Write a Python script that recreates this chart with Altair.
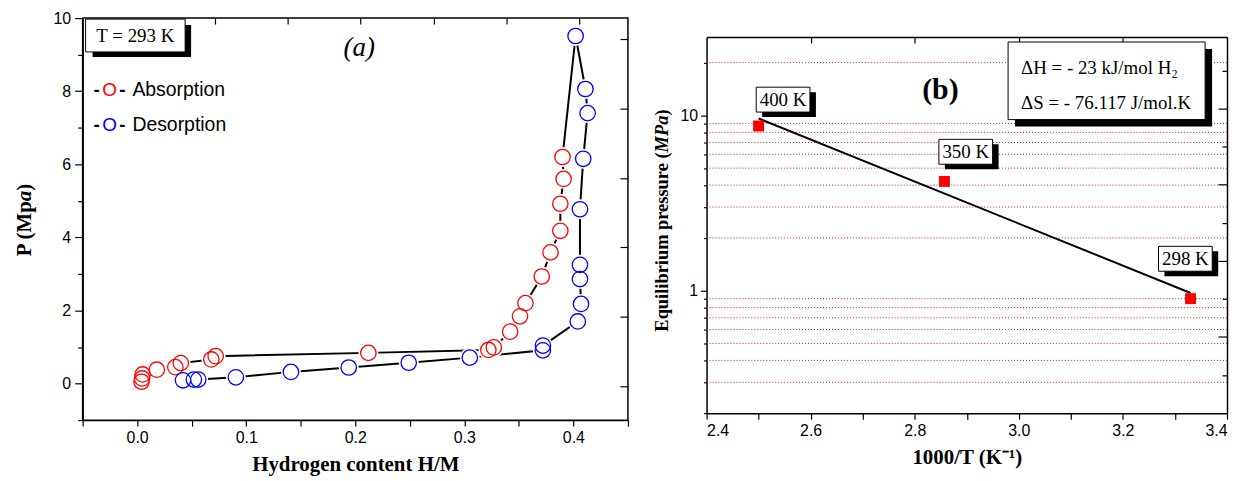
import altair as alt
import pandas as pd

# ---------------- Panel (a): PCT isotherm at 293 K ----------------
abs_x = [0.004, 0.0045, 0.005, 0.018, 0.035, 0.040, 0.068, 0.072, 0.212,
         0.322, 0.327, 0.342, 0.351, 0.356, 0.371, 0.379, 0.388, 0.388, 0.391, 0.390]
abs_p = [0.05, 0.14, 0.25, 0.38, 0.45, 0.56, 0.66, 0.75, 0.84,
         0.92, 0.99, 1.42, 1.84, 2.20, 2.93, 3.59, 4.18, 4.92, 5.60, 6.20]
des_x = [0.402, 0.411, 0.413, 0.409, 0.406, 0.406, 0.406, 0.407, 0.404, 0.372,
         0.372, 0.305, 0.249, 0.194, 0.141, 0.0905, 0.056, 0.052, 0.042]
des_p = [9.51, 8.06, 7.40, 6.15, 4.77, 3.25, 2.86, 2.18, 1.70, 1.04,
         0.91, 0.71, 0.57, 0.44, 0.32, 0.17, 0.11, 0.11, 0.09]
x_ticks_a = [-0.05, 0.0, 0.05, 0.1, 0.15, 0.2, 0.25, 0.3, 0.35, 0.4, 0.45]
y_ticks_a = [-1, 0, 1, 2, 3, 4, 5, 6, 7, 8, 9, 10]
legend_names = ["Absorption", "Desorption"]
temp_text_a = ["T = 293 K"]
panel_a = ["(a)"]
ytitle_a = ["P (Mp", "a", ")"]          # "a" in italic, as in the original

# ---------------- Panel (b): van't Hoff plot ----------------
inv_t = [2.5, 2.857, 3.33]
p_eq = [8.7, 4.2, 0.9]
temp_labels = ["400 K", "350 K", "298 K"]
label_x = [2.547, 2.898, 3.32]
label_p = [12.3, 6.2, 1.52]
fit_x = [2.5, 3.33]
fit_p = [9.6, 0.97]
grid_p = [0.3, 0.4, 0.5, 0.6, 0.7, 0.8, 0.9, 2, 3, 4, 5, 6, 7, 8, 9, 20]
x_ticks_b = [2.4, 2.5, 2.6, 2.7, 2.8, 2.9, 3.0, 3.1, 3.2, 3.3, 3.4]
y_ticks_b = [0.2, 0.3, 0.4, 0.5, 0.6, 0.7, 0.8, 0.9, 1, 2, 3, 4, 5, 6, 7, 8, 9, 10, 20]
thermo_text = ["ΔH = - 23 kJ/mol H₂", "ΔS = - 76.117 J/mol.K"]
panel_b = ["(b)"]
ytitle_b = ["Equilibrium pressure (", "MPa", ")"]   # "MPa" in italic

SERIF = "Liberation Serif"
SANS = "Liberation Sans"
one = pd.DataFrame({"k": [0]})

H_A = 404          # left plot height
H_B = 397          # right plot height (frame starts TOP_B px below the left frame top)
TOP_B = 19
W_B = 523


def rot_title(parts, x, junction, size, italic_w):
    """Three rotated text pieces: bold, bold-italic, bold."""
    p1 = alt.Chart(pd.DataFrame({"t": [parts[0]]})).mark_text(
        font=SERIF, fontSize=size, fontWeight="bold", color="black", angle=270,
        align="right", baseline="middle").encode(x=alt.value(x), y=alt.value(junction), text="t:N")
    p2 = alt.Chart(pd.DataFrame({"t": [parts[1]]})).mark_text(
        font=SERIF, fontSize=size, fontWeight="bold", fontStyle="italic", color="black", angle=270,
        align="left", baseline="middle").encode(x=alt.value(x), y=alt.value(junction), text="t:N")
    p3 = alt.Chart(pd.DataFrame({"t": [parts[2]]})).mark_text(
        font=SERIF, fontSize=size, fontWeight="bold", color="black", angle=270,
        align="left", baseline="middle").encode(x=alt.value(x), y=alt.value(junction - italic_w),
                                                text="t:N")
    return [p1, p2, p3]


# ======== panel (a) ========
df_abs = pd.DataFrame({"x": abs_x, "p": abs_p})
df_des = pd.DataFrame({"x": des_x, "p": des_p})
df_path = pd.DataFrame({"x": abs_x + des_x, "p": abs_p + des_p,
                        "o": list(range(len(abs_x) + len(des_x)))})

xa = alt.X("x:Q", scale=alt.Scale(domain=[-0.05, 0.45], nice=False, zero=False),
           axis=alt.Axis(values=x_ticks_a, grid=False, tickSize=6, labelPadding=3,
                         titlePadding=9, title="Hydrogen content H/M",
                         labelExpr="round(datum.value*100) % 10 == 0 ? format(datum.value, '.1f') : ''"))
ya = alt.Y("p:Q", scale=alt.Scale(domain=[-1, 10], nice=False, zero=False),
           axis=alt.Axis(values=y_ticks_a, grid=False, labelPadding=4, title=None,
                         tickSize={"condition": {"test": "datum.value % 2 === 0", "value": 8}, "value": 5},
                         labelExpr="(datum.value >= 0 && datum.value % 2 == 0) ? datum.label : ''"))

line_a = alt.Chart(df_path).mark_line(color="black", strokeWidth=2).encode(x=xa, y=ya, order="o:Q")
halo_abs = alt.Chart(df_abs).mark_point(shape="circle", size=400, filled=True, fill="white",
                                        opacity=1, strokeWidth=0).encode(x=xa, y=ya)
halo_des = alt.Chart(df_des).mark_point(shape="circle", size=400, filled=True, fill="white",
                                        opacity=1, strokeWidth=0).encode(x=xa, y=ya)
pts_abs = alt.Chart(df_abs).mark_point(shape="circle", size=240, color="#ff0000",
                                       strokeWidth=1.3, opacity=1).encode(x=xa, y=ya)
pts_des = alt.Chart(df_des).mark_point(shape="circle", size=240, color="#0000ff",
                                       strokeWidth=1.3, opacity=1).encode(x=xa, y=ya)

shadow_a = alt.Chart(one).mark_rect(fill="black").encode(
    x=alt.value(10), x2=alt.value(109), y=alt.value(7), y2=alt.value(39))
box_a = alt.Chart(one).mark_rect(fill="white", stroke="black", strokeWidth=1).encode(
    x=alt.value(3), x2=alt.value(103), y=alt.value(1), y2=alt.value(34))
txt_a = alt.Chart(pd.DataFrame({"t": temp_text_a})).mark_text(
    font=SERIF, fontSize=19, color="black").encode(x=alt.value(53), y=alt.value(18), text="t:N")
lab_a = alt.Chart(pd.DataFrame({"t": panel_a})).mark_text(
    font=SERIF, fontSize=27, fontStyle="italic", color="black").encode(
    x=alt.value(278), y=alt.value(30), text="t:N")

df_leg = pd.DataFrame({"name": legend_names, "yy": [72, 107]})
leg_d1 = alt.Chart(df_leg).mark_text(font=SANS, fontSize=19, fontWeight="bold", color="black", text="-").encode(
    x=alt.value(14), y=alt.Y("yy:Q", scale=None))
leg_d2 = alt.Chart(df_leg).mark_text(font=SANS, fontSize=19, fontWeight="bold", color="black", text="-").encode(
    x=alt.value(40), y=alt.Y("yy:Q", scale=None))
leg_o1 = alt.Chart(df_leg.iloc[[0]]).mark_text(font=SANS, fontSize=19, color="#ff0000", text="O").encode(
    x=alt.value(27), y=alt.Y("yy:Q", scale=None))
leg_o2 = alt.Chart(df_leg.iloc[[1]]).mark_text(font=SANS, fontSize=19, color="#0000ff", text="O").encode(
    x=alt.value(27), y=alt.Y("yy:Q", scale=None))
leg_t = alt.Chart(df_leg).mark_text(font=SANS, fontSize=19.5, color="black", align="left").encode(
    x=alt.value(50), y=alt.Y("yy:Q", scale=None), text="name:N")

title_a = rot_title(ytitle_a, -58, 184, 21, 10.5)

dummy_a = alt.Chart(pd.DataFrame({"u": [0.0], "v": [0.0]})).mark_point(opacity=0).encode(
    x=alt.X("u:Q", scale=alt.Scale(domain=[-0.82, 6.67], nice=False, zero=False),
            axis=alt.Axis(orient="top", values=[1, 2, 3, 4, 5, 6], labels=False, title=None,
                          domain=False, grid=False, tickSize=6, offset=-6)),
    y=alt.Y("v:Q", scale=alt.Scale(domain=[-0.487, 5.3], nice=False, zero=False),
            axis=alt.Axis(orient="right", values=[0, 1, 2, 3, 4, 5], labels=False, title=None,
                          domain=False, grid=False, tickSize=8, offset=-8)))

main_a = alt.layer(line_a, halo_abs, halo_des, pts_abs, pts_des, shadow_a, box_a, txt_a, lab_a,
                   leg_d1, leg_d2, leg_o1, leg_o2, leg_t, *title_a)
left = alt.layer(main_a, dummy_a).resolve_scale(x="independent", y="independent").properties(
    width=548, height=H_A)

# ======== panel (b) ========
df_pts = pd.DataFrame({"x": inv_t, "p": p_eq})
df_fit = pd.DataFrame({"x": fit_x, "p": fit_p})
df_grid = pd.DataFrame({"p": grid_p})
df_lab = pd.DataFrame({"x": label_x, "p": label_p, "t": temp_labels})

xb = alt.X("x:Q", scale=alt.Scale(domain=[2.4, 3.4], nice=False, zero=False),
           axis=alt.Axis(values=x_ticks_b, grid=False, tickSize=6, labelPadding=3,
                         titlePadding=9, title="1000/T (K⁻¹)",
                         labelExpr="round(datum.value*10) % 2 == 0 ? format(datum.value, '.1f') : ''"))
yb = alt.Y("p:Q", scale=alt.Scale(type="log", domain=[0.2, 28], nice=False, range=[H_B, TOP_B]),
           axis=alt.Axis(values=y_ticks_b, grid=False, labelPadding=3, title=None,
                         tickSize={"condition": {"test": "datum.value === 1 || datum.value === 10",
                                                 "value": 6}, "value": 3},
                         labelExpr="(datum.value === 1 || datum.value === 10) ? datum.label : ''"))

grid_b = alt.Chart(df_grid).mark_rule(color="#b22222", strokeDash=[1, 2], strokeWidth=1).encode(y=yb)
fit_b = alt.Chart(df_fit).mark_line(color="black", strokeWidth=2).encode(x=xb, y=yb)
sq_b = alt.Chart(df_pts).mark_square(size=121, color="#ff0000", opacity=1).encode(x=xb, y=yb)

box_path = "M-1,-0.463L1,-0.463L1,0.463L-1,0.463Z"
shadow_path = "M-0.778,-0.278L1.222,-0.278L1.222,0.648L-0.778,0.648Z"
lab_shadow = alt.Chart(df_lab).mark_point(shape=shadow_path, size=2916, filled=True,
                                          color="black", opacity=1).encode(x=xb, y=yb)
lab_box = alt.Chart(df_lab).mark_point(shape=box_path, size=2916, filled=True, fill="white",
                                       stroke="black", strokeWidth=1, opacity=1).encode(x=xb, y=yb)
lab_txt = alt.Chart(df_lab).mark_text(font=SERIF, fontSize=19, color="black").encode(
    x=xb, y=yb, text="t:N")

shadow_b = alt.Chart(one).mark_rect(fill="black").encode(
    x=alt.value(310), x2=alt.value(508), y=alt.value(TOP_B + 12), y2=alt.value(TOP_B + 90))
box_b = alt.Chart(one).mark_rect(fill="white", stroke="black", strokeWidth=1).encode(
    x=alt.value(303), x2=alt.value(501), y=alt.value(TOP_B + 5), y2=alt.value(TOP_B + 83))
df_th = pd.DataFrame({"t": thermo_text, "yy": [TOP_B + 31, TOP_B + 66]})
th_txt = alt.Chart(df_th).mark_text(font=SERIF, fontSize=19, color="black", align="left").encode(
    x=alt.value(316), y=alt.Y("yy:Q", scale=None), text="t:N")
lab_b = alt.Chart(pd.DataFrame({"t": panel_b})).mark_text(
    font=SERIF, fontSize=30, fontWeight="bold", color="black").encode(
    x=alt.value(235), y=alt.value(TOP_B + 53), text="t:N")

title_b = rot_title(ytitle_b, -45, 135, 18.5, 37)

# frame top (with inward ticks) and frame right (with alternating inward ticks)
dummy_b = alt.Chart(pd.DataFrame({"u": [3.0], "v": [1.0]})).mark_point(opacity=0).encode(
    x=alt.X("u:Q", scale=alt.Scale(domain=[2.4, 3.4], nice=False, zero=False),
            axis=alt.Axis(orient="bottom", offset=TOP_B - H_B, values=[2.6, 2.8, 3.0, 3.2],
                          labels=False, title=None, domain=True, grid=False, tickSize=6)),
    y=alt.Y("v:Q", scale=alt.Scale(domain=[0, 4.94], nice=False, zero=False, range=[H_B, TOP_B]),
            axis=alt.Axis(orient="left", offset=-W_B, values=[0.5, 1, 1.5, 2, 2.5, 3, 3.5, 4, 4.5],
                          labels=False, title=None, domain=True, grid=False,
                          tickSize={"condition": {"test": "datum.value % 1 === 0", "value": 9},
                                    "value": 5})))

main_b = alt.layer(grid_b, fit_b, sq_b, lab_shadow, lab_box, lab_txt, shadow_b, box_b, th_txt, lab_b,
                   *title_b)
right = alt.layer(main_b, dummy_b).resolve_scale(x="independent", y="independent").properties(
    width=W_B, height=H_B, view=alt.ViewBackground(stroke="transparent"))

chart = alt.hconcat(left, right, spacing=22).properties(
    padding={"left": 5, "top": 0, "right": 0, "bottom": 0}
).configure_axis(
    labelFont=SANS, labelFontSize=16, labelColor="black",
    titleFont=SERIF, titleFontSize=21, titleFontWeight="bold", titleColor="black",
    domainColor="black", domainWidth=1.5, tickColor="black", tickWidth=1.2
).configure_view(stroke="black", strokeWidth=1.5)

chart.save("out.html", embed_options={"renderer": "svg", "actions": False})
